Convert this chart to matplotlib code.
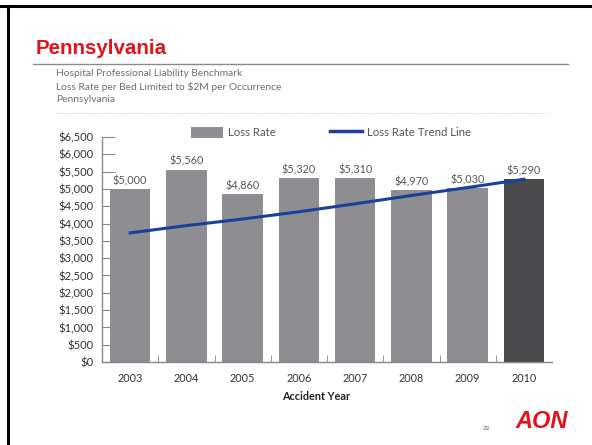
import matplotlib
matplotlib.use("Agg")
import matplotlib.pyplot as plt
from matplotlib.lines import Line2D
from matplotlib.patches import Patch

# ---- data -------------------------------------------------------
YEARS = ["2003", "2004", "2005", "2006", "2007", "2008", "2009", "2010"]
LOSS_RATE = [5000, 5560, 4860, 5320, 5310, 4970, 5030, 5290]
TREND = [3730, 3940, 4130, 4340, 4570, 4810, 5040, 5280]
Y_TICKS = list(range(0, 6501, 500))

SUBTITLE = [
    "Hospital Professional Liability Benchmark",
    "Loss Rate per Bed Limited to $2M per Occurrence",
    "Pennsylvania",
]

BAR_GRAY = "#8e8e92"
BAR_DARK = "#4a4a4d"
TREND_BLUE = "#1c3f9c"
TEXT_GRAY = "#555555"
FONT = "Lato"

W, H = 592, 445


def px(x, y):
    # pixel position (from top-left) -> figure fraction
    return x / W, 1 - y / H


def main():
    fig = plt.figure(figsize=(W / 100, H / 100), dpi=100)
    fig.patch.set_facecolor("white")

    # slide frame (top and left edges)
    fig.add_artist(Line2D([0, 1], [px(0, 6)[1]] * 2, color="black", lw=2.2,
                          transform=fig.transFigure))
    fig.add_artist(Line2D([px(7.5, 0)[0]] * 2, [0, px(0, 6)[1]], color="black",
                          lw=2.2, transform=fig.transFigure))

    # title and rule
    fig.text(*px(36, 48), "Pennsylvania", color="#e3121b", fontsize=14.8,
             fontweight="bold", family="Liberation Sans", va="center")
    fig.add_artist(Line2D([px(33, 0)[0], px(568, 0)[0]], [px(0, 64)[1]] * 2,
                          color="#8a8a8a", lw=1.0, transform=fig.transFigure))

    for i, line in enumerate(SUBTITLE):
        fig.text(*px(56, 74 + 13 * i), line, color="#6e6e6e", fontsize=7.4,
                 family=FONT, va="center")
    fig.add_artist(Line2D([px(56, 0)[0], px(548, 0)[0]], [px(0, 113)[1]] * 2,
                          color="#c8c8c8", lw=0.7, ls=(0, (1, 1.5)),
                          transform=fig.transFigure))

    # chart
    left, top = px(102, 137)
    right, bottom = px(552, 362)
    ax = fig.add_axes([left, bottom, right - left, top - bottom])
    ax.set_axisbelow(True)

    xs = list(range(len(YEARS)))
    colors = [BAR_GRAY] * (len(YEARS) - 1) + [BAR_DARK]
    ax.bar(xs, LOSS_RATE, width=0.72, color=colors, zorder=2)
    ax.plot(xs, TREND, color=TREND_BLUE, lw=2.2, zorder=3)

    for x, v in zip(xs, LOSS_RATE):
        ax.text(x, v + 80, f"${v:,}", ha="center", va="bottom", fontsize=7.8,
                color=TEXT_GRAY, family=FONT)

    ax.set_xlim(-0.5, len(YEARS) - 0.5)
    ax.set_ylim(0, 6500)
    ax.set_yticks(Y_TICKS)
    ax.set_yticklabels([f"${t:,}" for t in Y_TICKS], fontsize=8,
                       color="#333333", family=FONT)
    ax.set_xticks(xs)
    ax.set_xticklabels(YEARS, fontsize=7.8, color="#333333", family=FONT)
    ax.tick_params(axis="x", length=0, pad=8)
    ax.set_xticks([x + 0.5 for x in xs[:-1]], minor=True)
    ax.tick_params(axis="x", which="minor", direction="in", length=5,
                   color="#888888")
    ax.tick_params(axis="y", direction="in", length=9, color="#888888", pad=6)

    for s in ("top", "right"):
        ax.spines[s].set_visible(False)
    for s in ("left", "bottom"):
        ax.spines[s].set_color("#888888")
        ax.spines[s].set_linewidth(1.0)

    fig.text(*px(316, 397), "Accident Year", fontsize=7.8, fontweight="bold",
             family=FONT, color="#222222", ha="center", va="center")

    handles = [Patch(facecolor=BAR_GRAY, edgecolor="none"),
               Line2D([0], [0], color=TREND_BLUE, lw=2.5)]
    leg = ax.legend(handles, ["Loss Rate", "Loss Rate Trend Line"], ncol=2,
                    frameon=False, loc="lower left",
                    bbox_to_anchor=(0.188, 0.975),
                    handlelength=2.8, handleheight=1.1, handletextpad=0.4,
                    columnspacing=4.8, borderaxespad=0,
                    prop={"family": FONT, "size": 8.2})
    for t in leg.get_texts():
        t.set_color("#555555")

    # footer
    fig.text(*px(486, 428), "23", fontsize=4.5, color="#555555",
             family="Liberation Sans", ha="center", va="center")
    fig.text(*px(542, 421), "AON", fontsize=17, color="#e3121b",
             fontweight="heavy", style="italic", family="Liberation Sans",
             ha="center", va="center")

    fig.savefig("out.png", dpi=100)


if __name__ == "__main__":
    main()
